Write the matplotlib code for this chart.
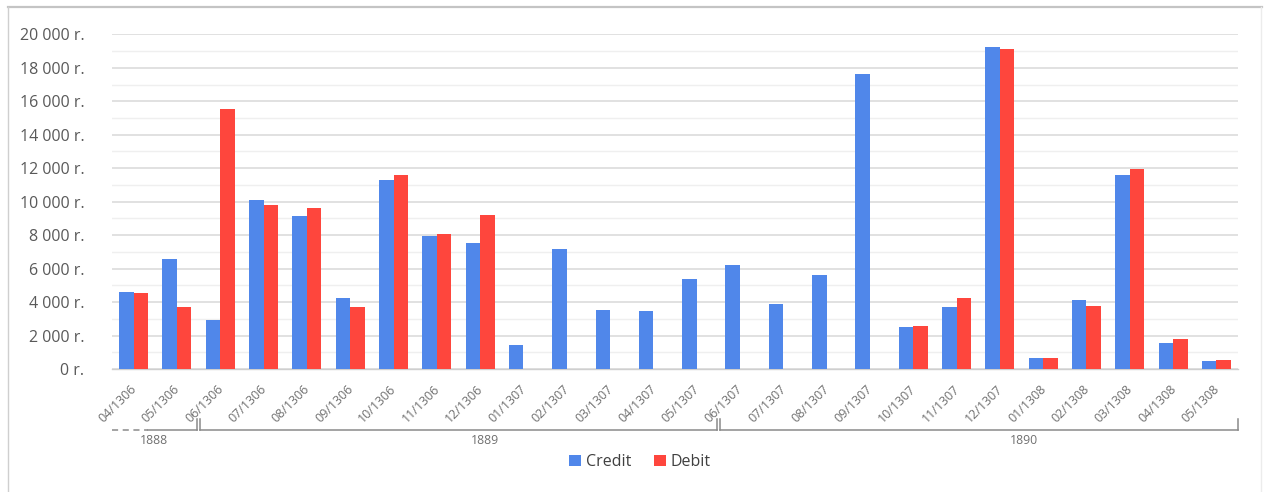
import numpy as np
import matplotlib
matplotlib.use("Agg")
import matplotlib.pyplot as plt
from matplotlib.transforms import blended_transform_factory
from matplotlib.lines import Line2D

months = ["04/1306", "05/1306", "06/1306", "07/1306", "08/1306", "09/1306",
          "10/1306", "11/1306", "12/1306", "01/1307", "02/1307", "03/1307",
          "04/1307", "05/1307", "06/1307", "07/1307", "08/1307", "09/1307",
          "10/1307", "11/1307", "12/1307", "01/1308", "02/1308", "03/1308",
          "04/1308", "05/1308"]
credit = [4600, 6550, 2930, 10100, 9160, 4220, 11280, 7950, 7510, 1450, 7170,
          3510, 3450, 5380, 6240, 3870, 5600, 17650, 2510, 3710, 19220, 640,
          4120, 11610, 1550, 480]
debit = [4550, 3690, 15520, 9800, 9620, 3690, 11610, 8090, 9180, None, None,
         None, None, None, None, None, None, None, 2570, 4240, 19140, 640,
         3785, 11930, 1770, 520]
years = ["1888", "1889", "1890"]
year_spans = [(0, 1), (2, 13), (14, 25)]
yticks = list(range(0, 20001, 2000))
ytick_labels = ["0 r."] + [f"{v // 1000} 000 r." for v in yticks[1:]]

W, H = 1264, 492
fig = plt.figure(figsize=(W / 100, H / 100), dpi=100)
plt.rcParams['font.family'] = ['Open Sans', 'DejaVu Sans']

# chart frame
fig.add_artist(Line2D([8 / W, 1262 / W], [1 - 7 / H, 1 - 7 / H], transform=fig.transFigure,
                      color="#c4c4c4", lw=1.6))
fig.add_artist(Line2D([8 / W, 8 / W], [0, 1 - 7 / H], transform=fig.transFigure,
                      color="#cfcfcf", lw=1.0))
fig.add_artist(Line2D([1261 / W, 1261 / W], [0, 1 - 7 / H], transform=fig.transFigure,
                      color="#ececec", lw=1.0))

ax = fig.add_axes([112 / W, (H - 369) / H, 1126 / W, 334.7 / H])
x = np.arange(len(months))
bw = 0.335
blue = "#5087ea"
red = "#fe463d"
deb = np.array([np.nan if v is None else v for v in debit], dtype=float)
ax.bar(x - bw / 2, credit, bw, color=blue, label="Credit", zorder=3)
ax.bar(x + bw / 2, deb, bw, color=red, label="Debit", zorder=3)

ax.set_xlim(-0.5, len(months) - 0.5)
ax.set_ylim(0, 20000)
ax.set_yticks(yticks)
ax.set_yticklabels(ytick_labels)
ax.set_yticks(range(1000, 20000, 2000), minor=True)
ax.grid(axis="y", which="major", color="#dcdcdc", lw=1.2, zorder=0)
ax.grid(axis="y", which="minor", color="#efefef", lw=1.0, zorder=0)
ax.tick_params(axis="y", which="both", length=0, pad=20, labelsize=11.5, labelcolor="#595959")
for s in ["top", "right", "left"]:
    ax.spines[s].set_visible(False)
ax.spines["bottom"].set_color("#cfcfcf")
ax.spines["bottom"].set_linewidth(1.0)
ax.set_xticks([])

tr = blended_transform_factory(ax.transData, ax.transAxes)
for i, m in enumerate(months):
    ax.text(i + 0.02, -0.055, m, rotation=45, rotation_mode="anchor", ha="right", va="center",
            fontsize=9, color="#707070", transform=tr, clip_on=False)

# year brackets
yb = (369 - 430) / 334.7
yt = (369 - 419) / 334.7
lc = "#8a8a8a"
def seg(x0, x1, y0, y1, ls="-"):
    ax.add_line(Line2D([x0, x1], [y0, y1], transform=tr, color=lc, lw=1.1, ls=ls, clip_on=False))

seg(-0.5, 0.32, yb, yb, ls=(0, (4, 3)))
seg(0.32, year_spans[0][1] + 0.5 - 0.035, yb, yb)
seg(year_spans[0][1] + 0.5 - 0.035, year_spans[0][1] + 0.5 - 0.035, yb, yt)
for (a, b) in year_spans[1:]:
    seg(a - 0.5 + 0.035, b + 0.5 - (0.035 if b < 25 else 0), yb, yb)
    seg(a - 0.5 + 0.035, a - 0.5 + 0.035, yb, yt)
    xe = b + 0.5 - (0.035 if b < 25 else 0)
    seg(xe, xe, yb, yt)

label_x = [0.46, 8.1, 20.55]
for lx, yr in zip(label_x, years):
    ax.text(lx, (369 - 440) / 334.7, yr, transform=tr, ha="center", va="center",
            fontsize=8.8, color="#707070", clip_on=False)

fig.legend(loc="center", bbox_to_anchor=(640 / W, 1 - 462 / H), ncol=2, frameon=False,
           handlelength=0.75, handleheight=0.75, handletextpad=0.3, columnspacing=1.4,
           prop={"size": 11.5}, labelcolor="#404040")

fig.savefig("out.png", dpi=100)
